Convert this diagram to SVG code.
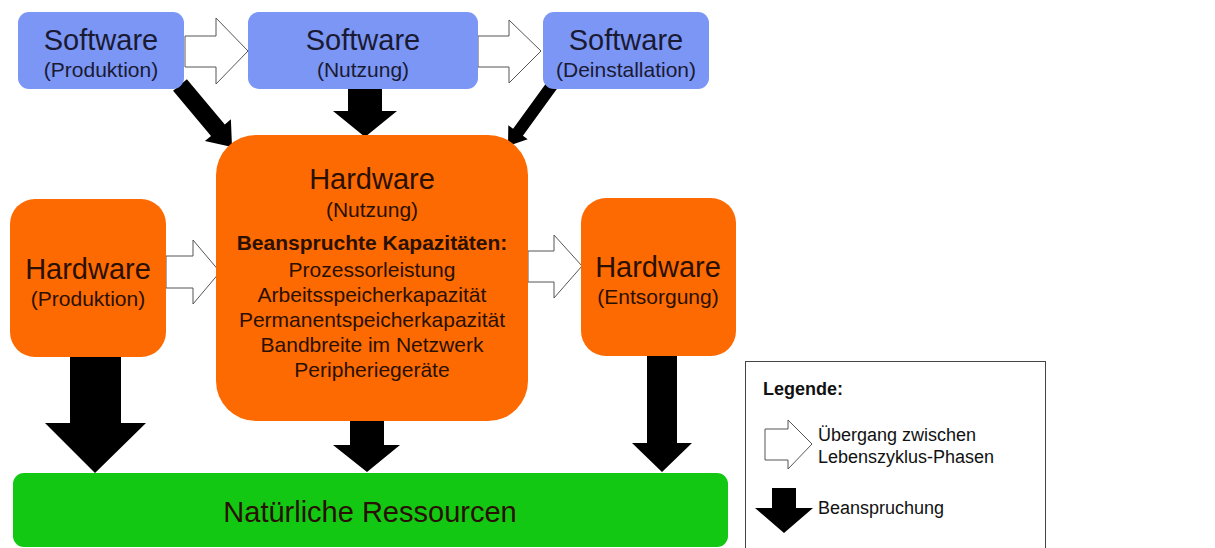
<svg xmlns="http://www.w3.org/2000/svg" width="1215" height="548" viewBox="0 0 1215 548">
<style>
text{font-family:"Liberation Sans",Arial,sans-serif;text-anchor:middle}
.sw{fill:#7b96f5}
.hw{fill:#fd6a02}
.t1{font-size:29px;fill:#1a1a33}
.t2{font-size:21px;fill:#1a1a33}
.h1{font-size:29px;fill:#2a1000}
.h2{font-size:21px;fill:#2a1000}
.wa{fill:#fff;stroke:#555;stroke-width:1}
.ba{fill:#000}
.lg{font-size:18px;fill:#111;text-anchor:start}
</style>
<rect width="1215" height="548" fill="#fff"/>
<g id="connectors">
  <polygon class="wa" points="185,36 216,36 216,18 248,51 216,84 216,67 185,67"/>
  <polygon class="wa" points="478,36 509,36 509,20 541,51 509,83 509,67 478,67"/>
  <polygon class="wa" points="166,256 193,256 193,240 220,272 193,304 193,288 166,288"/>
  <polygon class="wa" points="528,251 554,251 554,235 582,266 554,298 554,282 528,282"/>
  <polygon class="ba" points="173.1,90.8 186.9,79.2 224.8,124.4 230.9,119.3 232,147 204.9,141.1 211,136"/>
  <polygon class="ba" points="348,89 382,89 382,111 397,111 365,137 333,111 348,111"/>
  <polygon class="ba" points="557.9,87.5 548.1,80.5 513.1,128.7 508.3,125.2 508,146 527.7,139.2 522.9,135.7"/>
  <polygon class="ba" points="70,357 121,357 121,423 146,423 95,473 45,423 70,423"/>
  <polygon class="ba" points="350,420 384,420 384,445 400,445 367,472 333,445 350,445"/>
  <polygon class="ba" points="647,356 677,356 677,443 692,443 662,472 632,443 647,443"/>
</g>
<g id="sw-produktion">
  <rect class="sw" x="18" y="12" width="166" height="77" rx="11"/>
  <text class="t1" x="101" y="50">Software</text>
  <text class="t2" x="101" y="77">(Produktion)</text>
</g>
<g id="sw-nutzung">
  <rect class="sw" x="248" y="12" width="230" height="77" rx="11"/>
  <text class="t1" x="363" y="50">Software</text>
  <text class="t2" x="363" y="77">(Nutzung)</text>
</g>
<g id="sw-deinstallation">
  <rect class="sw" x="543" y="12" width="166" height="77" rx="11"/>
  <text class="t1" x="626" y="50">Software</text>
  <text class="t2" x="626" y="77">(Deinstallation)</text>
</g>
<g id="hw-nutzung">
  <rect class="hw" x="216" y="135" width="312" height="286" rx="40"/>
  <text class="h1" x="372" y="189">Hardware</text>
  <text class="h2" x="372" y="217">(Nutzung)</text>
  <text class="h2" x="372" y="250" font-weight="bold">Beanspruchte Kapazitäten:</text>
  <text class="h2" x="372" y="277">Prozessorleistung</text>
  <text class="h2" x="372" y="302">Arbeitsspeicherkapazität</text>
  <text class="h2" x="372" y="327">Permanentspeicherkapazität</text>
  <text class="h2" x="372" y="352">Bandbreite im Netzwerk</text>
  <text class="h2" x="372" y="377">Peripheriegeräte</text>
</g>
<g id="hw-produktion">
  <rect class="hw" x="10" y="199" width="156" height="158" rx="25"/>
  <text class="h1" x="88" y="279">Hardware</text>
  <text class="h2" x="88" y="306">(Produktion)</text>
</g>
<g id="hw-entsorgung">
  <rect class="hw" x="581" y="198" width="155" height="158" rx="25"/>
  <text class="h1" x="658" y="277">Hardware</text>
  <text class="h2" x="658" y="304">(Entsorgung)</text>
</g>
<g id="ressourcen">
  <rect x="13" y="473" width="715" height="74" rx="11" fill="#12c812"/>
  <text class="h1" x="370" y="522" fill="#102010">Natürliche Ressourcen</text>
</g>
<g id="legende">
  <rect x="745.5" y="361.5" width="300" height="200" fill="#fff" stroke="#444" stroke-width="1"/>
  <text class="lg" x="763" y="395" font-weight="bold">Legende:</text>
  <polygon class="wa" points="765,429 788,429 788,420 812,444 788,469 788,460 765,460"/>
  <text class="lg" x="818" y="441">Übergang zwischen</text>
  <text class="lg" x="818" y="463">Lebenszyklus-Phasen</text>
  <polygon class="ba" points="772,488 796,488 796,508 813,508 784,533 755,508 772,508"/>
  <text class="lg" x="818" y="514">Beanspruchung</text>
</g>
</svg>
